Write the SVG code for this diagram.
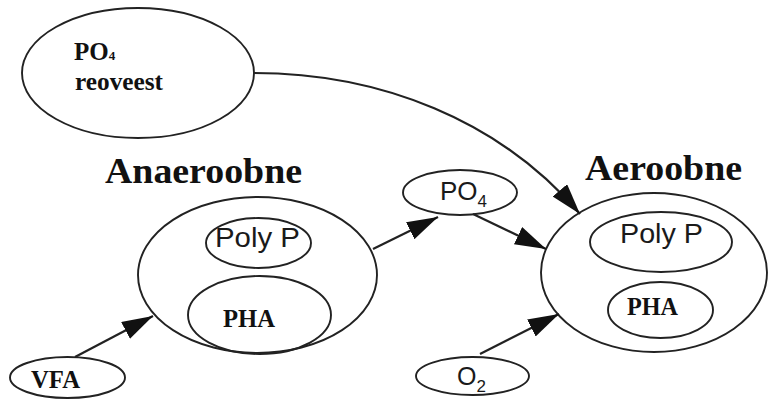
<svg xmlns="http://www.w3.org/2000/svg" width="771" height="403" viewBox="0 0 771 403">
<style>
.e{fill:none;stroke:#222;stroke-width:1.9}
.c{fill:none;stroke:#222;stroke-width:2.2}
.s{font-family:"Liberation Serif","Times New Roman",serif;font-weight:bold;fill:#111}
.a{font-family:"Liberation Sans",Arial,sans-serif;fill:#1a1a1a}
</style>
<defs>
<marker id="ah" markerUnits="userSpaceOnUse" markerWidth="34" markerHeight="22" refX="31" refY="9.5" orient="auto">
<path d="M0,0 L31,9.5 L0,19 z" fill="#111"/>
</marker>
</defs>
<rect width="771" height="403" fill="#fff"/>
<g id="po4-reoveest">
<ellipse class="e" cx="138" cy="73" rx="116" ry="65"/>
<text class="s" x="74" y="60" font-size="25">PO<tspan font-size="13">4</tspan></text>
<text class="s" x="75" y="90" font-size="25" textLength="88" lengthAdjust="spacingAndGlyphs">reoveest</text>
</g>
<g id="anaeroobne">
<text class="s" x="105" y="183" font-size="36" textLength="197" lengthAdjust="spacingAndGlyphs">Anaeroobne</text>
<ellipse class="e" cx="257.5" cy="275" rx="119.5" ry="78"/>
</g>
<g id="anaeroobne-polyp">
<ellipse class="e" cx="258.5" cy="243" rx="52.5" ry="25"/>
<text class="a" x="215" y="247" font-size="28" textLength="85" lengthAdjust="spacingAndGlyphs">Poly P</text>
</g>
<g id="anaeroobne-pha">
<ellipse class="e" cx="259.5" cy="315" rx="71.5" ry="39"/>
<text class="s" x="223" y="327" font-size="25.5" textLength="52" lengthAdjust="spacingAndGlyphs">PHA</text>
</g>
<g id="vfa">
<ellipse class="e" cx="67.5" cy="377.5" rx="57.5" ry="20.5"/>
<text class="s" x="31" y="388" font-size="24.5" textLength="49" lengthAdjust="spacingAndGlyphs">VFA</text>
</g>
<g id="po4">
<ellipse class="e" cx="460" cy="192.5" rx="57" ry="22.5"/>
<text class="a" x="440" y="200" font-size="26">PO<tspan font-size="17" dy="7">4</tspan></text>
</g>
<g id="o2">
<ellipse class="e" cx="472.5" cy="376" rx="56.5" ry="19"/>
<text class="a" x="457" y="385" font-size="25">O<tspan font-size="17" dy="7">2</tspan></text>
</g>
<g id="aeroobne">
<text class="s" x="585" y="180" font-size="36" textLength="157" lengthAdjust="spacingAndGlyphs">Aeroobne</text>
<ellipse class="e" cx="654" cy="272.5" rx="113" ry="79.5"/>
</g>
<g id="aeroobne-polyp">
<ellipse class="e" cx="661" cy="242" rx="71" ry="30"/>
<text class="a" x="620" y="243" font-size="28" textLength="83" lengthAdjust="spacingAndGlyphs">Poly P</text>
</g>
<g id="aeroobne-pha">
<ellipse class="e" cx="660.5" cy="310" rx="52.5" ry="28"/>
<text class="s" x="627" y="315" font-size="25.5" textLength="51" lengthAdjust="spacingAndGlyphs">PHA</text>
</g>
<g id="connectors">
<path class="c" d="M254,73 C380,73 500,120 580,214" marker-end="url(#ah)"/>
<path class="c" d="M75,357 L153,316" marker-end="url(#ah)"/>
<path class="c" d="M373,249 L438,217" marker-end="url(#ah)"/>
<path class="c" d="M473,214 L546,249" marker-end="url(#ah)"/>
<path class="c" d="M480,354 L559,314" marker-end="url(#ah)"/>
</g>
</svg>
